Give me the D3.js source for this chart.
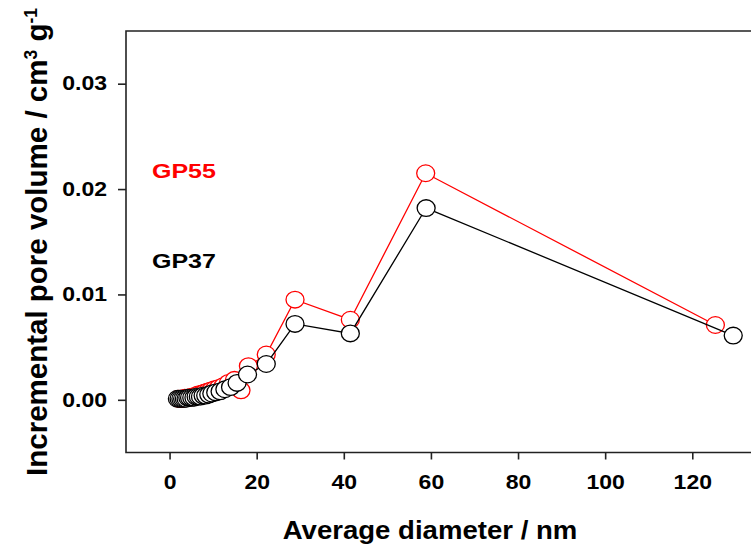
<!DOCTYPE html>
<html>
<head>
<meta charset="utf-8">
<script src="https://cdn.jsdelivr.net/npm/d3@7"></script>
<style>
  body { margin: 0; background: #fff; }
  svg { display: block; font-family: "Liberation Sans", Arial, sans-serif; }
</style>
</head>
<body>
<div id="chart"></div>
<script>
// data
var gp55Diam = [125.3, 58.8, 41.5, 28.8, 22.2, 18.1, 16.4, 14.9, 13.5, 12.3, 11.2, 10.3, 9.5, 8.8, 8.1, 7.5, 7.0, 6.5, 6.0, 5.5, 5.0, 4.5, 4.0, 3.5, 3.0, 2.5, 2.0];
var gp55Vol = [0.0071, 0.0215, 0.0076, 0.0095, 0.0043, 0.0032, 0.0009, 0.0019, 0.0016, 0.0013, 0.0011, 0.0010, 0.0009, 0.0008, 0.0007, 0.0006, 0.0005, 0.0005, 0.0004, 0.0003, 0.0003, 0.0002, 0.0002, 0.0002, 0.0001, 0.0001, 0.0001];

var gp37Diam = [129.4, 58.9, 41.5, 28.8, 22.2, 17.9, 15.5, 14.0, 12.7, 11.6, 10.6, 9.7, 9.0, 8.3, 7.7, 7.1, 6.6, 6.1, 5.6, 5.1, 4.6, 4.2, 3.8, 3.4, 3.0, 2.6, 2.2, 1.8];
var gp37Vol = [0.0061, 0.0182, 0.0063, 0.0072, 0.0034, 0.0024, 0.0016, 0.0012, 0.0010, 0.0008, 0.0007, 0.0006, 0.0005, 0.0004, 0.0004, 0.0003, 0.0003, 0.0003, 0.0002, 0.0002, 0.0002, 0.0002, 0.0001, 0.0001, 0.0001, 0.0001, 0.0001, 0.0001];

var xTicks = [0, 20, 40, 60, 80, 100, 120];
var yTicks = [0.00, 0.01, 0.02, 0.03];

// Set up the chart
var svg_width = 751;
var svg_height = 550;

var svg = d3.select("#chart").append("svg")
  .attr("width", svg_width)
  .attr("height", svg_height);

var xScale = d3.scaleLinear().domain([-10, 140]).range([126, 779.4]);
var yScale = d3.scaleLinear().domain([-0.005, 0.035]).range([452.5, 31]);

// the original text is a bit wider than Liberation Sans, stretch it
function stretch(sel, k) {
  sel.each(function() {
    var w = this.getComputedTextLength();
    d3.select(this).attr("textLength", w * k).attr("lengthAdjust", "spacingAndGlyphs");
  });
}

// frame (right side runs off the canvas)
svg.append("path")
  .attr("d", `M${xScale(140)},${yScale(0.035)} H${xScale(-10)} V${yScale(-0.005)} H${xScale(140)}`)
  .attr("fill", "none")
  .attr("stroke", "#222")
  .attr("stroke-width", 1.6);

// axes
var bottomAxis = d3.axisBottom(xScale).tickValues(xTicks).tickSize(7).tickPadding(16)
  .tickFormat(d3.format("d"));
var leftAxis = d3.axisLeft(yScale).tickValues(yTicks).tickSize(8).tickPadding(11)
  .tickFormat(d3.format(".2f"));

var gx = svg.append("g")
  .attr("transform", `translate(0, ${yScale(-0.005)})`)
  .call(bottomAxis);
var gy = svg.append("g")
  .attr("transform", `translate(${xScale(-10)}, 0)`)
  .call(leftAxis);

[gx, gy].forEach(function(g) {
  g.select(".domain").remove();
  g.selectAll(".tick line").attr("stroke", "#222").attr("stroke-width", 1.6);
  g.selectAll(".tick text")
    .attr("fill", "#000")
    .style("font-size", "19.5px")
    .style("font-weight", "bold")
    .style("font-family", "'Liberation Sans', Arial, sans-serif")
    .call(stretch, 1.18);
});

// series
function drawSeries(diam, vol, color) {
  var pts = diam.map(function(d, i) { return [d, vol[i]]; });
  var line = d3.line()
    .x(d => xScale(d[0]))
    .y(d => yScale(d[1]));
  svg.append("path")
    .datum(pts)
    .attr("d", line)
    .attr("fill", "none")
    .attr("stroke", color)
    .attr("stroke-width", 1.3);
  svg.append("g").selectAll("ellipse")
    .data(pts.slice().reverse())
    .enter().append("ellipse")
    .attr("cx", d => xScale(d[0]))
    .attr("cy", d => yScale(d[1]))
    .attr("rx", 9)
    .attr("ry", 8.3)
    .attr("fill", "#fff")
    .attr("stroke", color)
    .attr("stroke-width", 1.3);
}

drawSeries(gp55Diam, gp55Vol, "#ff0000");
drawSeries(gp37Diam, gp37Vol, "#000000");

// series labels
svg.append("text")
  .attr("x", 152)
  .attr("y", 178)
  .attr("fill", "#ff0000")
  .style("font-size", "21px")
  .style("font-weight", "bold")
  .text("GP55")
  .call(stretch, 1.19);

svg.append("text")
  .attr("x", 152)
  .attr("y", 268)
  .attr("fill", "#000")
  .style("font-size", "21px")
  .style("font-weight", "bold")
  .text("GP37")
  .call(stretch, 1.19);

// axis titles
svg.append("text")
  .attr("x", 430)
  .attr("y", 539)
  .attr("text-anchor", "middle")
  .style("font-size", "26px")
  .style("font-weight", "bold")
  .text("Average diameter / nm")
  .call(stretch, 1.06);

var yTitle = svg.append("text")
  .attr("transform", "translate(47, 242) rotate(-90)")
  .attr("text-anchor", "middle")
  .style("font-size", "29.5px")
  .style("font-weight", "bold");
yTitle.append("tspan").text("Incremental pore volume / cm");
yTitle.append("tspan").attr("baseline-shift", "super").style("font-size", "17.5px").text("3");
yTitle.append("tspan").text(" g");
yTitle.append("tspan").attr("baseline-shift", "super").style("font-size", "17.5px").text("-1");
</script>
</body>
</html>
